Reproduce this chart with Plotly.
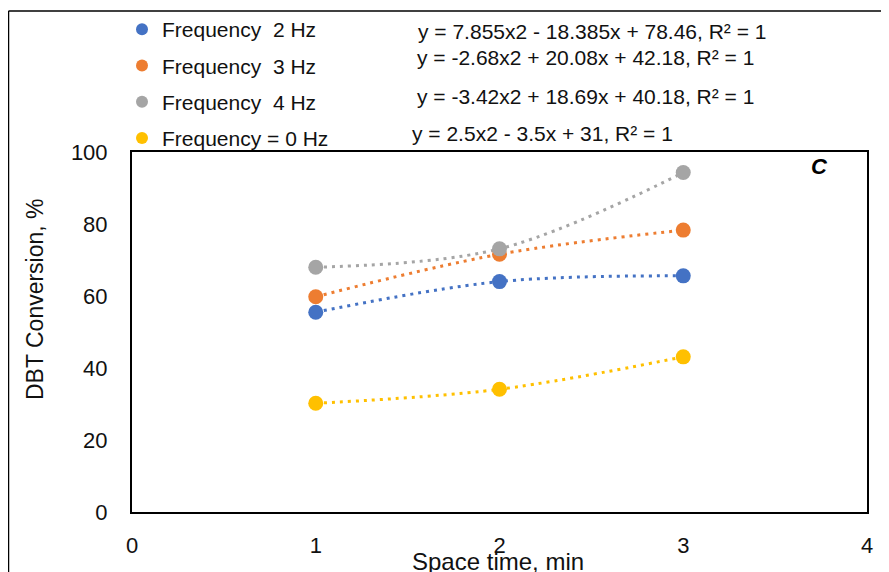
import plotly.graph_objects as go

space_time = [1, 2, 3]
series_names = ["Frequency  2 Hz", "Frequency  3 Hz", "Frequency  4 Hz", "Frequency = 0 Hz"]
conv_2hz = [55.5, 64.0, 65.6]
conv_3hz = [59.8, 71.6, 78.3]
conv_4hz = [68.0, 73.1, 94.3]
conv_0hz = [30.2, 34.1, 43.1]
equations = [
    "y = 7.855x2 - 18.385x + 78.46, R² = 1",
    "y = -2.68x2 + 20.08x + 42.18, R² = 1",
    "y = -3.42x2 + 18.69x + 40.18, R² = 1",
    "y = 2.5x2 - 3.5x + 31, R² = 1",
]
x_ticks = [0, 1, 2, 3, 4]
y_ticks = [0, 20, 40, 60, 80, 100]

colors = ["#4472C4", "#ED7D31", "#A5A5A5", "#FFC000"]
values = [conv_2hz, conv_3hz, conv_4hz, conv_0hz]

FONT = "Liberation Sans, Arial, sans-serif"

# page offset of the plot div (body margin)
OFF = 8
W, H = 897, 572
# plot area in page pixels
PL, PR, PT, PB = 132, 867, 152, 512
L, T = PL - OFF, PT - OFF
R = W - (PR - OFF)
B = H - (PB - OFF)
pw, ph = PR - PL, PB - PT

def px(xp):
    return (xp - PL) / pw

def py(yp):
    return (PB - yp) / ph

fig = go.Figure()

for i, (name, vals, col) in enumerate(zip(series_names, values, colors)):
    fig.add_trace(go.Scatter(
        x=space_time, y=vals, mode="lines",
        line=dict(color=col, width=3, dash="3px,5px", shape="spline"),
        showlegend=False, hoverinfo="skip",
    ))
for i, (name, vals, col) in enumerate(zip(series_names, values, colors)):
    fig.add_trace(go.Scatter(
        x=space_time, y=vals, mode="markers", name=name,
        marker=dict(color=col, size=15),
        legendgroup="g%d" % i,
    ))

eq_pos = [(416, 31), (415, 57), (415, 96), (410, 134)]
for eq, (xp, yp) in zip(equations, eq_pos):
    fig.add_annotation(
        x=px(xp), y=py(yp), xref="paper", yref="paper",
        text=eq, showarrow=False, xanchor="left", yanchor="middle",
        font=dict(family=FONT, size=21, color="#111111"),
    )

fig.add_annotation(
    x=px(819), y=py(166), xref="paper", yref="paper",
    text="<b><i>C</i></b>", showarrow=False, xanchor="center", yanchor="middle",
    font=dict(family=FONT, size=22, color="black"),
)

fig.add_annotation(
    x=px(35), y=py(299), xref="paper", yref="paper",
    text="DBT Conversion, %", showarrow=False, textangle=-90,
    xanchor="center", yanchor="middle",
    font=dict(family=FONT, size=23, color="#111111"),
)
fig.add_annotation(
    x=px(498), y=py(561), xref="paper", yref="paper",
    text="Space time, min", showarrow=False,
    xanchor="center", yanchor="middle",
    font=dict(family=FONT, size=24, color="#111111"),
)

# outer frame (left and top edges)
fig.add_shape(type="line", xref="paper", yref="paper",
              x0=px(8.5), x1=px(8.5), y0=py(11), y1=py(620),
              line=dict(color="black", width=1.5))
fig.add_shape(type="line", xref="paper", yref="paper",
              x0=px(8.5), x1=px(950), y0=py(11), y1=py(11),
              line=dict(color="black", width=1.5))

fig.update_layout(
    width=W, height=H,
    margin=dict(l=L, r=R, t=T, b=B, autoexpand=False),
    paper_bgcolor="white", plot_bgcolor="white",
    font=dict(family=FONT, size=20, color="#111111"),
    legend=dict(
        x=px(122), y=py(9), xanchor="left", yanchor="top",
        orientation="v", tracegroupgap=6,
        font=dict(family=FONT, size=21, color="#111111"),
        bgcolor="rgba(0,0,0,0)", itemsizing="constant",
    ),
    showlegend=True,
    xaxis=dict(
        range=[0, 4], tickvals=x_ticks, ticktext=[str(v) for v in x_ticks],
        showgrid=False, zeroline=False, showline=True, mirror=True,
        linecolor="black", linewidth=2, ticks="", ticklabelstandoff=13,
        tickfont=dict(family=FONT, size=22, color="#111111"),
    ),
    yaxis=dict(
        range=[0, 100], tickvals=y_ticks, ticktext=[str(v) for v in y_ticks],
        showgrid=False, zeroline=False, showline=True, mirror=True,
        linecolor="black", linewidth=2, ticks="", ticklabelstandoff=18,
        tickfont=dict(family=FONT, size=22, color="#111111"),
    ),
)

fig.write_html("out.html")
